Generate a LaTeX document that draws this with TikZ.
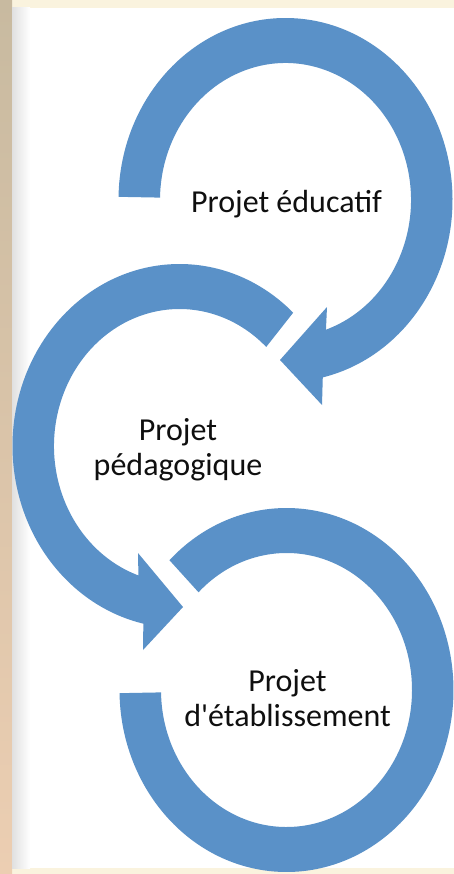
\documentclass[tikz,border=0pt]{standalone}
\usepackage{fontspec}
\setmainfont{Carlito}[Ligatures=TeXOff]
\usepackage{tikz}

\definecolor{ringblue}{RGB}{90,145,200}
\definecolor{pagebeige}{RGB}{250,243,222}
\definecolor{edgetan}{RGB}{200,186,160}
\definecolor{edgepeach}{RGB}{236,206,178}
\definecolor{labelblack}{RGB}{15,15,15}

\tikzstyle{ringarrow} = [fill=ringblue]
\tikzstyle{ringlabel} = [text=labelblack, align=center, inner sep=0pt, anchor=base, font=\fontsize{32}{35}\selectfont]

\begin{document}
\begin{tikzpicture}[x=1pt,y=1pt]
		\useasboundingbox (0,0) rectangle (454,-874);
		% page and its left edge
		\fill[pagebeige] (0,0) rectangle (454,-874);
		\shade[top color=edgetan, bottom color=edgepeach] (0,0) rectangle (12,-874);
		\fill[white] (12,-8) rectangle (454,-868);
		\shade[left color=black!12, right color=white] (12,-8) rectangle (30,-868);
		
		\coordinate (c1) at (285.5,-200);
		\coordinate (c2) at (179.5,-446);
		\coordinate (c3) at (286.5,-690);
		
		% first ring, clockwise, head at the bottom
		\fill[ringarrow] ([shift={(179:167pt and 182pt)}]c1)
			arc[start angle=179, end angle=-77.1, x radius=167pt, y radius=182pt]
			-- (322,-405) -- (280,-360) -- (327,-307)
			-- ([shift={(-71.2:125.5pt and 137pt)}]c1)
			arc[start angle=-71.2, end angle=179, x radius=125.5pt, y radius=137pt] -- cycle;
		
		% second ring, counterclockwise
		\fill[ringarrow] ([shift={(47.1:167pt and 182pt)}]c2)
			arc[start angle=47.1, end angle=257.5, x radius=167pt, y radius=182pt]
			-- (143,-650) -- (183,-607) -- (138,-553)
			-- ([shift={(250.9:125.5pt and 137pt)}]c2)
			arc[start angle=250.9, end angle=46.3, x radius=125.5pt, y radius=137pt] -- cycle;
		
		% third ring, no head
		\fill[ringarrow] ([shift={(134.5:167pt and 182pt)}]c3)
			arc[start angle=134.5, end angle=-179, x radius=167pt, y radius=182pt]
			-- ([shift={(-179:125.5pt and 137pt)}]c3)
			arc[start angle=-179, end angle=134.5, x radius=125.5pt, y radius=137pt] -- cycle;
		
		% base is the last line
		\node [ringlabel] (educatif) at (286.5,-213) {Projet éducatif};
		\node [ringlabel] (pedagogique) at (178,-475) {Projet\\pédagogique};
		\node [ringlabel] (etablissement) at (287.5,-726) {Projet\\d'établissement};
		
\end{tikzpicture}
\end{document}
